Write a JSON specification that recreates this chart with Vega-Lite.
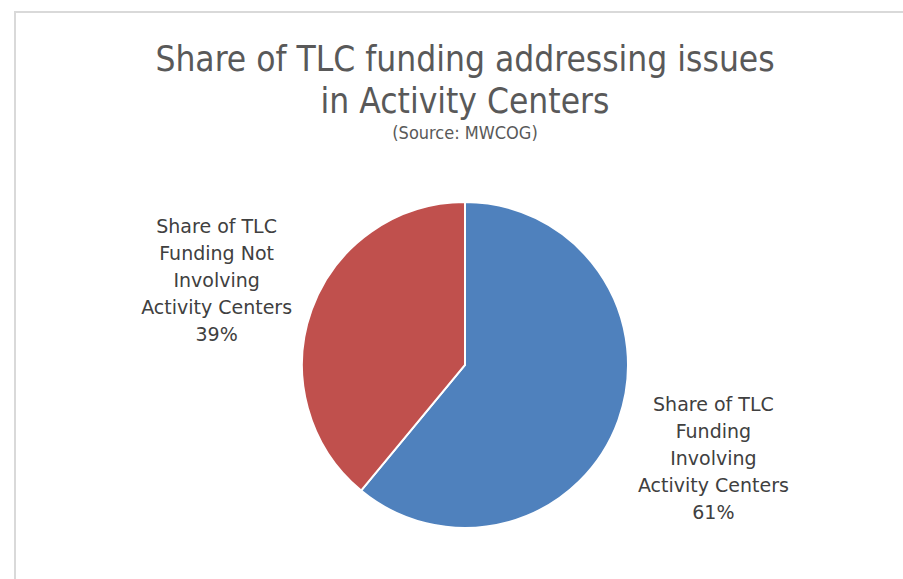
{
  "$schema": "https://vega.github.io/schema/vega-lite/v6.json",
  "autosize": {"type": "none"},
  "width": 900,
  "height": 706,
  "padding": {"left": 15, "top": 12, "right": -12, "bottom": -139},
  "background": "white",
  "view": {"stroke": "#d9d9d9", "strokeWidth": 2, "fill": "white"},
  "config": {
    "view": {"stroke": "#d9d9d9", "strokeWidth": 2}
  },
  "title": {
    "text": ["Share of TLC funding addressing issues", "in Activity Centers"],
    "subtitle": "(Source: MWCOG)",
    "orient": "top",
    "anchor": "middle",
    "frame": "group",
    "offset": -131,
    "font": "DejaVu Sans Condensed, Liberation Sans",
    "fontSize": 35,
    "fontWeight": "normal",
    "lineHeight": 42,
    "color": "#595959",
    "subtitleFont": "DejaVu Sans Condensed, Liberation Sans",
    "subtitleFontSize": 18,
    "subtitleColor": "#595959",
    "subtitlePadding": 5
  },
  "data": {
    "values": [
      {"category": "Involving", "share": 61, "rank": 1, "label": "Share of TLC\nFunding\nInvolving\nActivity Centers\n61%"},
      {"category": "Not Involving", "share": 39, "rank": 2, "label": "Share of TLC\nFunding Not\nInvolving\nActivity Centers\n39%"}
    ]
  },
  "encoding": {
    "theta": {"field": "share", "type": "quantitative", "stack": true},
    "order": {"field": "rank", "type": "quantitative"}
  },
  "layer": [
    {
      "mark": {"type": "arc", "outerRadius": 163, "stroke": "white", "strokeWidth": 2},
      "encoding": {
        "color": {
          "field": "category",
          "type": "nominal",
          "scale": {"domain": ["Involving", "Not Involving"], "range": ["#4F81BD", "#C0504D"]},
          "legend": null
        }
      }
    },
    {
      "mark": {"type": "text", "radius": 264, "dy": -49, "fontSize": 19, "font": "DejaVu Sans", "lineBreak": "\n", "lineHeight": 27, "color": "#404040", "align": "center", "baseline": "middle"},
      "encoding": {
        "text": {"field": "label", "type": "nominal"}
      }
    }
  ]
}
